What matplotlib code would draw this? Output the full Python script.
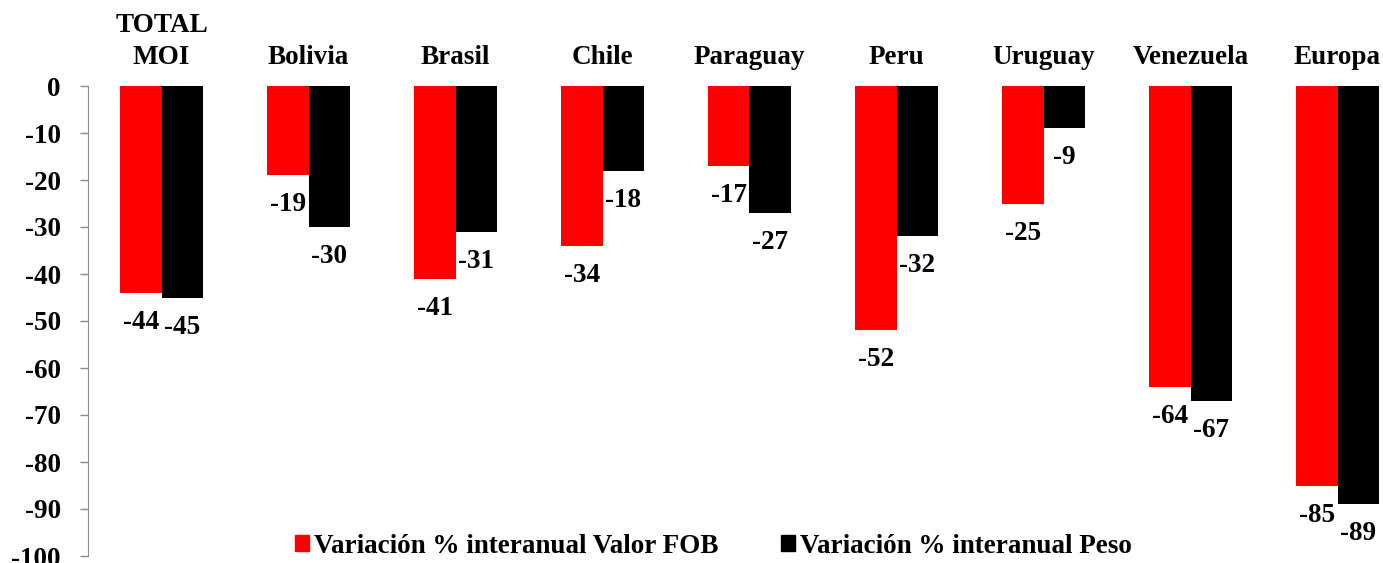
import numpy as np
import matplotlib
matplotlib.use("Agg")
import matplotlib.pyplot as plt
from matplotlib.patches import Patch

# data
categories = ["TOTAL\nMOI", "Bolivia", "Brasil", "Chile", "Paraguay",
              "Peru", "Uruguay", "Venezuela", "Europa"]
valor_fob = [-44, -19, -41, -34, -17, -52, -25, -64, -85]
peso = [-45, -30, -31, -18, -27, -32, -9, -67, -89]
series_names = ["Variación % interanual Valor FOB", "Variación % interanual Peso"]
yticks = list(range(0, -101, -10))

plt.rcParams['font.family'] = ['Liberation Serif', 'DejaVu Serif']
plt.rcParams['font.weight'] = 'bold'
FS = 19.5

fig = plt.figure(figsize=(13.83, 5.63), dpi=100)
W, H = 1383, 563
ax = fig.add_axes([88 / W, 7 / H, 9 * 147 / W, 470 / H])

x = np.arange(len(categories))
bw = 0.28
b1 = ax.bar(x - bw / 2, valor_fob, bw, color='#ff0000')
b2 = ax.bar(x + bw / 2, peso, bw, color='#000000')

ax.set_xlim(-0.5, len(categories) - 0.5)
ax.set_ylim(-100, 0)
ax.set_yticks(yticks)
ax.set_yticklabels([str(t) for t in yticks], fontsize=FS, fontweight='bold')
ax.set_xticks([])

for s in ['top', 'right', 'bottom']:
    ax.spines[s].set_visible(False)
ax.spines['left'].set_color('#8c8c8c')
ax.tick_params(axis='y', colors='#8c8c8c', length=5.5, width=1, pad=14,
               labelcolor='black')

# category labels above the zero line
for i, c in enumerate(categories):
    ax.annotate(c, xy=(i, 0), xytext=(0, 16), textcoords='offset pixels',
                ha='center', va='bottom', fontsize=FS, fontweight='bold',
                linespacing=1.38, annotation_clip=False)

# value labels under each bar
for bars, vals in ((b1, valor_fob), (b2, peso)):
    for r, v in zip(bars, vals):
        ax.annotate(str(v), xy=(r.get_x() + r.get_width() / 2, v),
                    xytext=(0, -17), textcoords='offset pixels',
                    ha='center', va='top', fontsize=FS, fontweight='bold',
                    annotation_clip=False)

handles = [Patch(color='#ff0000'), Patch(color='#000000')]
fig.legend(handles, series_names, loc='center', bbox_to_anchor=(0.516, 0.030),
           ncol=2, frameon=False, fontsize=FS, handlelength=0.5,
           handleheight=0.5, handletextpad=0.2, columnspacing=2.3,
           borderpad=0)

fig.savefig("out.png", dpi=100)
